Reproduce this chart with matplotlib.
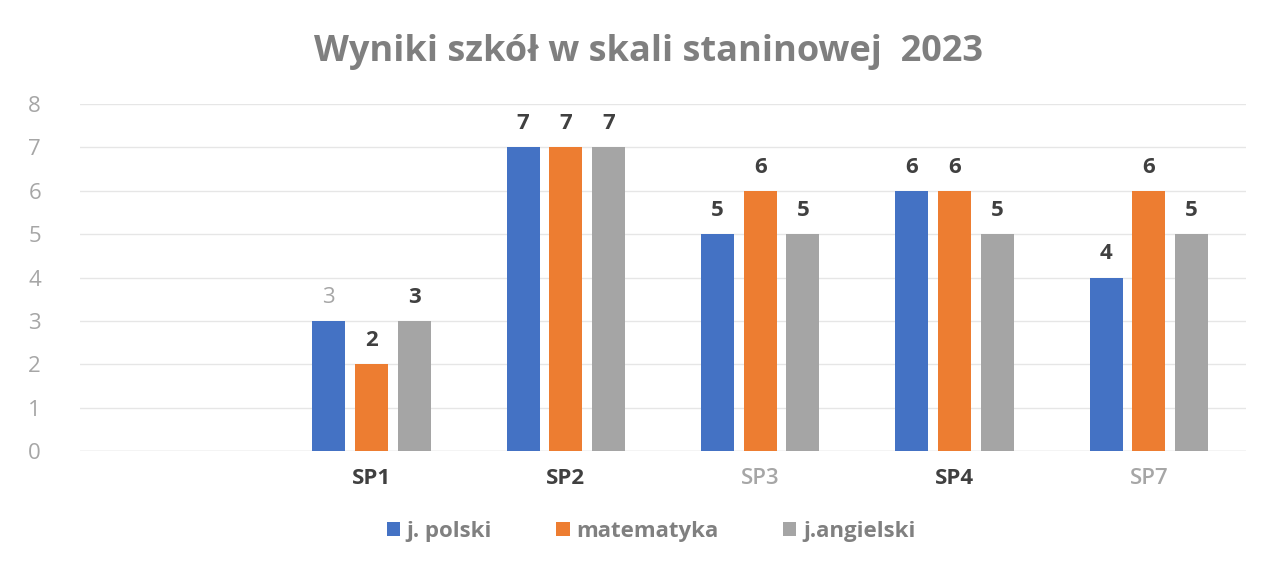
import matplotlib.pyplot as plt
import numpy as np

plt.rcParams['font.family'] = ['Open Sans', 'DejaVu Sans']

# dane
szkoly = ["", "SP1", "SP2", "SP3", "SP4", "SP7"]
j_polski = [None, 3, 7, 5, 6, 4]
matematyka = [None, 2, 7, 6, 6, 6]
j_angielski = [None, 3, 7, 5, 5, 5]
serie = ["j. polski", "matematyka", "j.angielski"]

kolory = ["#4472C4", "#ED7D31", "#A5A5A5"]
ciemny = "#404040"
szary = "#A6A6A6"

fig = plt.figure(figsize=(12.74, 5.62), dpi=100)
ax = fig.add_axes([80 / 1274, 111 / 562, 1166 / 1274, 347 / 562])

x = np.arange(len(szkoly))
szer = 0.17
przes = 0.22

for i, (nazwa, dane) in enumerate(zip(serie, [j_polski, matematyka, j_angielski])):
    xs = [xi + (i - 1) * przes for xi, v in zip(x, dane) if v is not None]
    vs = [v for v in dane if v is not None]
    bars = ax.bar(xs, vs, width=szer, color=kolory[i], label=nazwa, zorder=3)
    for b, v in zip(bars, vs):
        # etykieta nad SP1 j. polski jest jasniejsza na oryginale
        jasny = (i == 0 and b.get_x() < 1.5)
        ax.text(b.get_x() + b.get_width() / 2, v + 0.3, str(v),
                ha="center", va="bottom", fontsize=16,
                fontweight="normal" if jasny else "bold",
                color=szary if jasny else ciemny)

ax.set_xlim(-0.5, len(szkoly) - 0.5)
ax.set_ylim(0, 8)
ax.set_yticks(range(0, 9))
ax.set_xticks(x)
ax.set_xticklabels(szkoly)

for lab, s in zip(ax.get_xticklabels(), szkoly):
    if s in ("SP3", "SP7"):
        lab.set_color(szary)
        lab.set_fontweight("semibold")
    else:
        lab.set_color(ciemny)
        lab.set_fontweight("bold")
    lab.set_fontsize(16)

ax.tick_params(axis="y", length=0, pad=28, labelsize=16, labelcolor=szary)
ax.tick_params(axis="x", length=0, pad=12)
ax.grid(axis="y", color="#E6E6E6", linewidth=1, zorder=0)
for sp in ax.spines.values():
    sp.set_visible(False)
ax.axhline(0, color="#E0E0E0", linewidth=1, zorder=2)

fig.text(648 / 1274, 1 - 52 / 562, "Wyniki szkół w skali staninowej  2023",
         ha="center", va="center", fontsize=26, fontweight="bold", color="#7F7F7F")

leg = fig.legend(loc="center", bbox_to_anchor=(651 / 1274, 1 - 531 / 562), ncol=3,
                 frameon=False, fontsize=16, handlelength=0.6, handleheight=0.6,
                 handletextpad=0.3, columnspacing=2.9)
for t in leg.get_texts():
    t.set_color("#808080")
    t.set_fontweight("bold")

fig.savefig("out.png", dpi=100)
